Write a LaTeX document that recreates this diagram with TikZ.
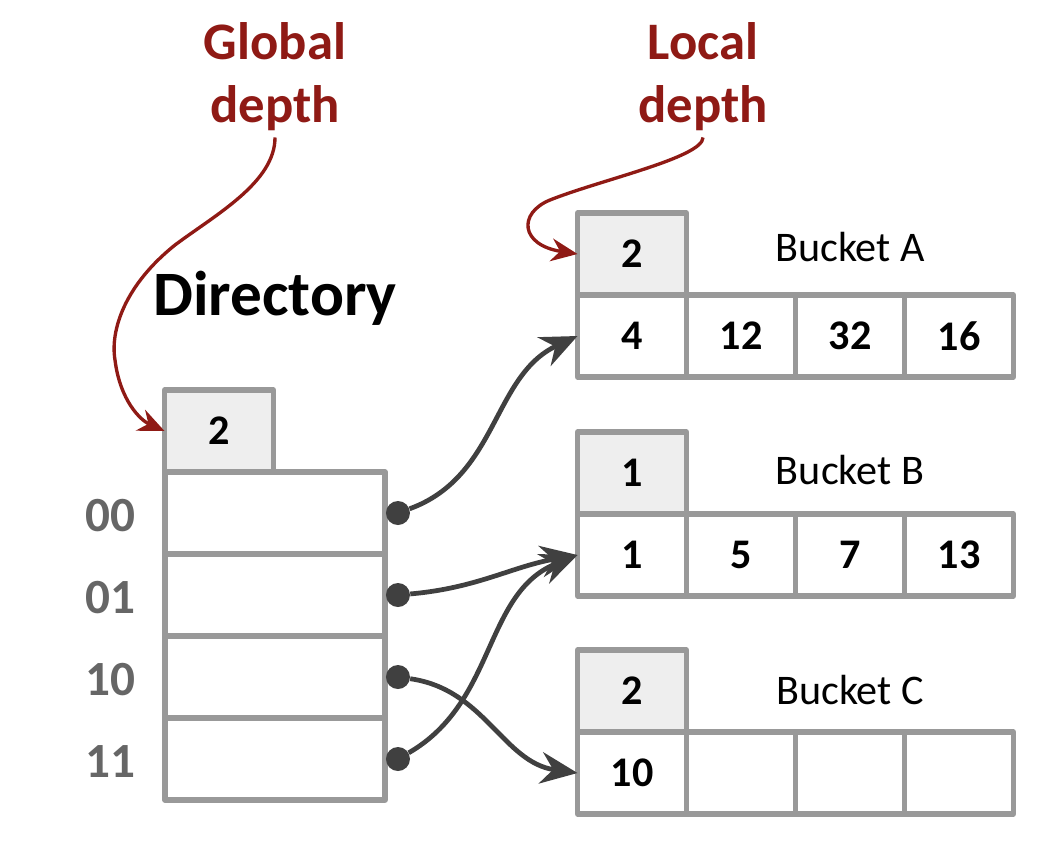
\documentclass[tikz,border=0pt]{standalone}
\usepackage{fontspec}
\setmainfont{Carlito}
\usepackage{tikz}
\usetikzlibrary{arrows.meta,calc,positioning}
\definecolor{depthred}{RGB}{143,26,21}
\definecolor{boxgray}{RGB}{153,153,153}
\definecolor{headfill}{RGB}{238,238,238}
\definecolor{linkgray}{RGB}{64,64,64}
\definecolor{labelgray}{RGB}{102,102,102}

\begin{document}
\begin{tikzpicture}[x=0.02cm,y=-0.02cm,
    cell/.style={draw=boxgray,line width=2.9pt,line join=round,minimum width=2.18cm,minimum height=1.64cm,inner sep=0pt,outer sep=0pt,font=\fontsize{24}{28}\selectfont\bfseries},
    head/.style={cell,fill=headfill},
    dircell/.style={cell,minimum width=4.4cm},
    link/.style={linkgray,line width=2.7pt,-{Stealth[length=21pt,width=18pt,inset=7pt]}},
    dot/.style={circle,fill=linkgray,inner sep=0pt,minimum size=0.48cm},
    depthline/.style={depthred,line width=1.9pt,-{Stealth[length=15pt,width=13pt,inset=5pt]}},
    depthtext/.style={depthred,align=center,font=\fontsize{30}{36}\selectfont\bfseries}]
  \useasboundingbox (0,0) rectangle (1042,840);
  % Titles
  \node[depthtext] (gd) at (275,77) {Global\\depth};
  \node[depthtext] (ld) at (703,77) {Local\\depth};
  \node[font=\fontsize{36}{40}\selectfont\bfseries] (dirt) at (275,298) {Directory};
  % Directory
  \node[head] (dh) at (219,431) {2};
  \foreach \lab [count=\i from 0] in {00,01,10,11} {
    \node[dircell] (r\i) at (275,513+82*\i) {};
    \node[labelgray,font=\fontsize{28}{32}\selectfont\bfseries] (l\i) at (110,516+82*\i) {\lab};
    \node[dot] (p\i) at ([xshift=0.26cm]r\i.east) {};
  }
  % Buckets
  \node[head] (Ah) at (632,254) {2};
  \node[head] (Bh) at (632,473) {1};
  \node[head] (Ch) at (632,691) {2};
  \node[font=\fontsize{24}{28}\selectfont] (Al) at (850,247) {Bucket A};
  \node[font=\fontsize{24}{28}\selectfont] (Bl) at (850,470) {Bucket B};
  \node[font=\fontsize{24}{28}\selectfont] (Cl) at (850,690) {Bucket C};
  \foreach \v [count=\i from 0] in {4,12,32,16}
    \node[cell] (A\i) at (632+109*\i,336) {\v};
  \foreach \v [count=\i from 0] in {1,5,7,13}
    \node[cell] (B\i) at (632+109*\i,555) {\v};
  \foreach \v [count=\i from 0] in {10,{},{},{}}
    \node[cell] (C\i) at (632+109*\i,773) {\v};
  % Pointers
  \draw[link] (p0) to[out=20,in=205] (A0.west);
  \draw[link] (p1) to[out=5,in=190] (B0.west);
  \draw[link] (p2) to[out=-8,in=172] (C0.west);
  \draw[link] (p3) to[out=30,in=202] (B0.west);
  % Depth arrows
  \draw[depthline] (gd.south) .. controls +(0,45) and (215,215) .. (175,245)
    .. controls (125,285) and (110,330) .. (115,360)
    .. controls (120,400) and (140,420) .. (dh.west);
  \draw[depthline] (ld.south) .. controls +(0,20) and (600,180) .. (550,200)
    .. controls (518,213) and (520,245) .. (Ah.west);
\end{tikzpicture}
\end{document}
